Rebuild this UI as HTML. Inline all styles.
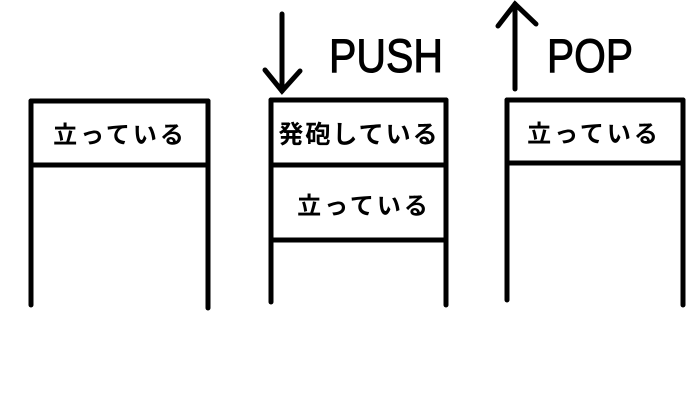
<!DOCTYPE html>
<html><head><meta charset="utf-8"><style>
html,body{margin:0;padding:0;background:#fff;width:700px;height:400px;overflow:hidden}
text{font-family:"Liberation Sans","Noto Sans CJK JP",sans-serif;fill:#000}
.jp{font-weight:bold}
</style></head><body>
<svg width="700" height="400" viewBox="0 0 700 400" stroke="#000" stroke-width="5" stroke-linecap="round" fill="none">
<g>
<line x1="31" y1="101" x2="31" y2="305"/><line x1="208" y1="101" x2="208" y2="308"/>
<line x1="31" y1="101" x2="208" y2="101"/><line x1="31" y1="165" x2="208" y2="165"/>
<text class="jp" x="120" y="143" text-anchor="middle" font-size="24" letter-spacing="3" stroke="none">立っている</text>
</g>
<g>
<line x1="271" y1="100" x2="271" y2="302"/><line x1="446" y1="100" x2="446" y2="305"/>
<line x1="271" y1="100" x2="446" y2="100"/><line x1="271" y1="165" x2="446" y2="165"/><line x1="271" y1="240" x2="446" y2="240"/>
<text class="jp" x="359" y="143" text-anchor="middle" font-size="25" letter-spacing="2" stroke="none">発砲している</text>
<text class="jp" x="364" y="214" text-anchor="middle" font-size="24" letter-spacing="3" stroke="none">立っている</text>
</g>
<g>
<line x1="282" y1="14" x2="282" y2="91"/><polyline points="265,70 282,91 300,71"/>
</g>
<text x="329" y="72" font-size="47" stroke="#000" stroke-width="1" textLength="114" lengthAdjust="spacingAndGlyphs">PUSH</text>
<g>
<line x1="507" y1="100" x2="507" y2="300"/><line x1="683" y1="100" x2="683" y2="305"/>
<line x1="507" y1="100" x2="683" y2="100"/><line x1="507" y1="163" x2="683" y2="163"/>
<text class="jp" x="594" y="142" text-anchor="middle" font-size="24" letter-spacing="3" stroke="none">立っている</text>
</g>
<g>
<line x1="515" y1="4" x2="515" y2="89"/><polyline points="498,26 515,4 536,24"/>
</g>
<text x="547" y="72" font-size="47" stroke="#000" stroke-width="1" textLength="86" lengthAdjust="spacingAndGlyphs">POP</text>
</svg>
</body></html>
